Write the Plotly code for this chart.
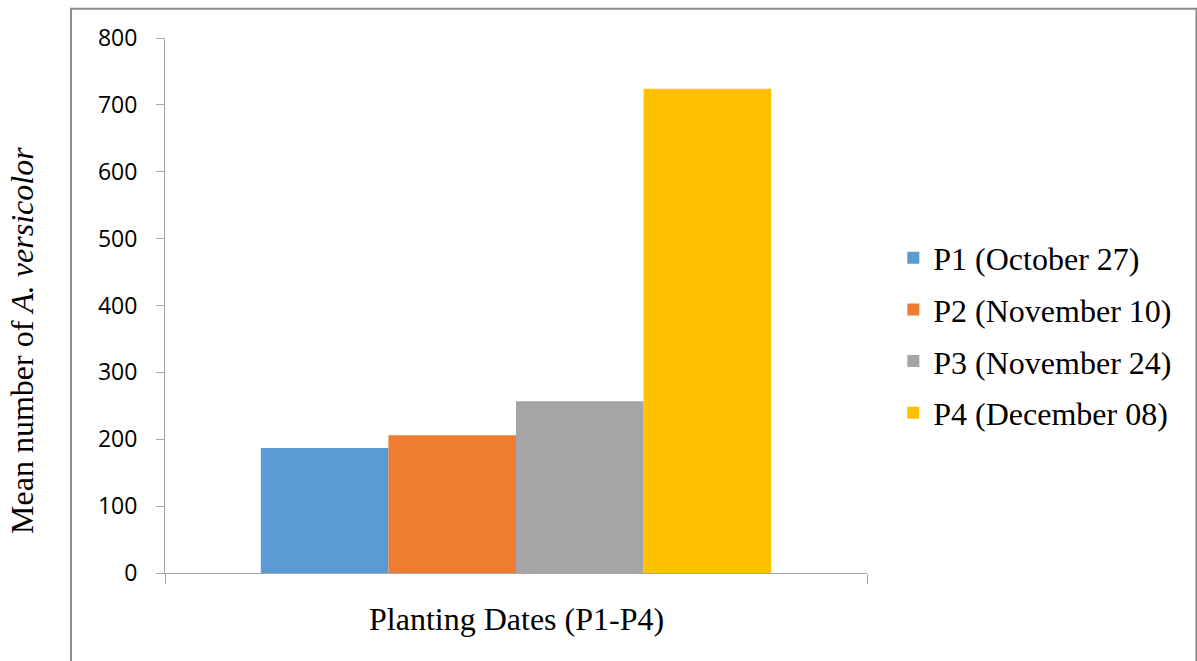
import plotly.graph_objects as go

# Data
category = ["Planting Dates (P1-P4)"]
series_names = ["P1 (October 27)", "P2 (November 10)", "P3 (November 24)", "P4 (December 08)"]
series_values = [187, 206, 257, 724]
series_colors = ["#5B9BD5", "#ED7D31", "#A5A5A5", "#FFC000"]
y_ticks = [0, 100, 200, 300, 400, 500, 600, 700, 800]

W, H = 1197, 661
L, R, T, B = 165, 330.3, 38.3, 88.3
pw, ph = W - L - R, H - T - B

def px_x(x):
    return (x - L) / pw

def px_y(y):
    return (H - B - y) / ph

fig = go.Figure()
for i, (name, val, col) in enumerate(zip(series_names, series_values, series_colors)):
    fig.add_trace(go.Bar(
        x=category, y=[val], name=name, marker=dict(color=col, line=dict(width=0)),
        legendgroup=f"g{i}",
    ))

serif = "Liberation Serif, Times New Roman, serif"
grey = "#a6a6a6"

fig.update_layout(
    width=W, height=H,
    margin=dict(l=L, r=R, t=T, b=B, autoexpand=False),
    paper_bgcolor="white", plot_bgcolor="white",
    barmode="group", bargap=0.273, bargroupgap=0,
    showlegend=True,
    legend=dict(
        x=px_x(893), xanchor="left", y=px_y(335.5), yanchor="middle",
        font=dict(family=serif, size=32, color="#000000"),
        tracegroupgap=7, bgcolor="rgba(0,0,0,0)",
        traceorder="grouped",
    ),
    xaxis=dict(
        type="category", showticklabels=False, showgrid=False, zeroline=False,
        showline=True, linecolor=grey, linewidth=1,
        ticks="outside", tickson="boundaries", ticklen=10, tickcolor=grey, tickwidth=1,
    ),
    yaxis=dict(
        range=[0, 800], tickvals=y_ticks, ticktext=[str(v) for v in y_ticks],
        showgrid=False, zeroline=False,
        showline=True, linecolor=grey, linewidth=1,
        ticks="outside", ticklen=8, tickcolor=grey, tickwidth=1,
        ticklabelstandoff=14,
        tickfont=dict(family="Open Sans, sans-serif", size=23, color="#000000"),
    ),
    annotations=[
        dict(
            text="Mean number of <i>A. versicolor</i>", textangle=-90,
            xref="paper", yref="paper", x=px_x(22), y=px_y(340),
            xanchor="center", yanchor="middle", showarrow=False,
            font=dict(family=serif, size=32, color="#000000"),
        ),
        dict(
            text="Planting Dates (P1-P4)",
            xref="paper", yref="paper", x=px_x(516), y=px_y(619),
            xanchor="center", yanchor="middle", showarrow=False,
            font=dict(family=serif, size=32, color="#000000"),
        ),
    ],
    shapes=[
        dict(type="rect", xref="paper", yref="paper",
             x0=px_x(71), x1=px_x(1196), y0=px_y(680), y1=px_y(9),
             line=dict(color="#8a8a8a", width=2), fillcolor="rgba(0,0,0,0)", layer="below"),
    ],
)

fig.write_html("out.html")
